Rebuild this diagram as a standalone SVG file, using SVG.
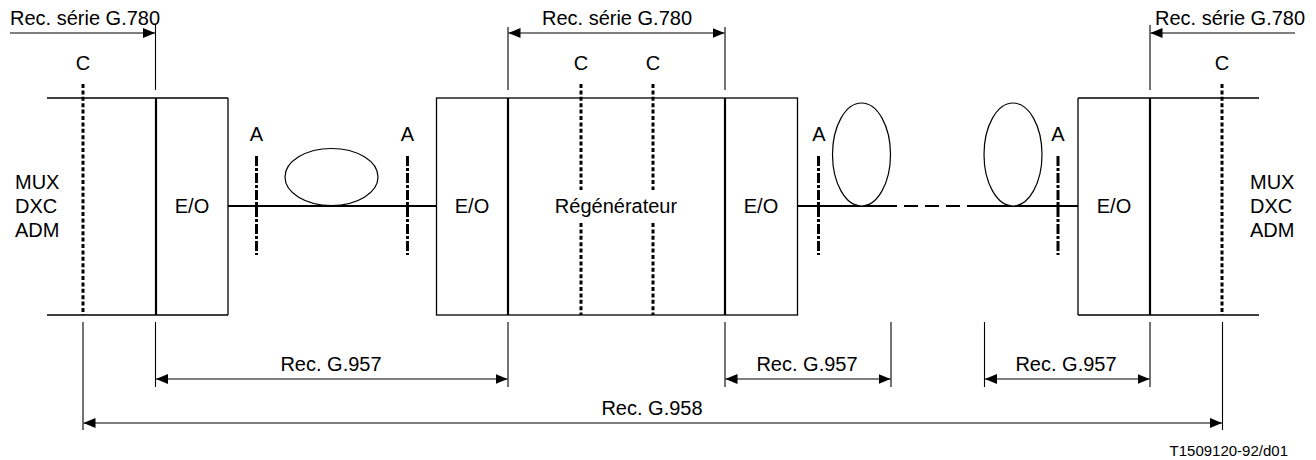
<svg xmlns="http://www.w3.org/2000/svg" width="1316" height="460" viewBox="0 0 1316 460">
<style>
text{font-family:"Liberation Sans",Arial,sans-serif;font-size:20px;fill:#000}
.small{font-size:15px}
.thin{stroke:#000;stroke-width:1.3;fill:none}
.thick{stroke:#000;stroke-width:2.2;fill:none}
.ext{stroke:#000;stroke-width:1.1;fill:none}
.dim{stroke:#000;stroke-width:1.2;fill:none}
.dotC{stroke:#000;stroke-width:3;stroke-dasharray:4 2.4;fill:none}
.dashA{stroke:#000;stroke-width:3;stroke-dasharray:10 2 3 2;fill:none}
.fiber{stroke:#000;stroke-width:2;fill:none}
.fibdash{stroke:#000;stroke-width:2;stroke-dasharray:14 7;fill:none}
.loop{stroke:#000;stroke-width:1.2;fill:#fff}
.mid{text-anchor:middle}
</style>
<defs>
<marker id="ah" markerWidth="12" markerHeight="10" refX="12" refY="5" orient="auto-start-reverse" markerUnits="userSpaceOnUse">
<path d="M0,0 L12,5 L0,10 Z" fill="#000"/>
</marker>
</defs>

<g id="left-terminal">
<line class="thin" x1="47" y1="98" x2="228" y2="98"/>
<line class="thin" x1="47" y1="315" x2="228" y2="315"/>
<line class="thin" x1="228" y1="98" x2="228" y2="315"/>
<line class="thick" x1="156" y1="98" x2="156" y2="315"/>
<line class="dotC" x1="83" y1="84" x2="83" y2="315"/>
<text x="83" y="70" class="mid">C</text>
<text x="15" y="189">MUX</text>
<text x="15" y="213">DXC</text>
<text x="15" y="237">ADM</text>
<text x="192" y="213" class="mid">E/O</text>
</g>

<g id="regenerator">
<rect class="thin" x="436.5" y="98" width="361" height="217"/>
<line class="thick" x1="508" y1="98" x2="508" y2="315"/>
<line class="thick" x1="725" y1="98" x2="725" y2="315"/>
<line class="dotC" x1="581" y1="84" x2="581" y2="190"/>
<line class="dotC" x1="581" y1="223" x2="581" y2="315"/>
<line class="dotC" x1="653" y1="84" x2="653" y2="190"/>
<line class="dotC" x1="653" y1="223" x2="653" y2="315"/>
<text x="581" y="70" class="mid">C</text>
<text x="653" y="70" class="mid">C</text>
<text x="472" y="213" class="mid">E/O</text>
<text x="616" y="213" class="mid">Régénérateur</text>
<text x="761" y="213" class="mid">E/O</text>
</g>

<g id="right-terminal">
<line class="thin" x1="1078" y1="98" x2="1259" y2="98"/>
<line class="thin" x1="1078" y1="315" x2="1259" y2="315"/>
<line class="thin" x1="1078" y1="98" x2="1078" y2="315"/>
<line class="thick" x1="1150" y1="98" x2="1150" y2="315"/>
<line class="dotC" x1="1222" y1="84" x2="1222" y2="315"/>
<text x="1222" y="70" class="mid">C</text>
<text x="1114" y="213" class="mid">E/O</text>
<text x="1250" y="189">MUX</text>
<text x="1250" y="213">DXC</text>
<text x="1250" y="237">ADM</text>
</g>

<g id="fiber-left">
<line class="fiber" x1="228" y1="206" x2="436" y2="206"/>
<ellipse class="loop" cx="331.5" cy="177" rx="46.5" ry="28.5"/>
<line class="dashA" x1="256.5" y1="156" x2="256.5" y2="255"/>
<line class="dashA" x1="407.5" y1="156" x2="407.5" y2="255"/>
<text x="256.5" y="141" class="mid">A</text>
<text x="407.5" y="141" class="mid">A</text>
</g>

<g id="fiber-right">
<line class="fiber" x1="797" y1="206" x2="897" y2="206"/>
<line class="fibdash" x1="904" y1="206" x2="977" y2="206"/>
<line class="fiber" x1="977" y1="206" x2="1078" y2="206"/>
<ellipse class="loop" cx="861.5" cy="154.5" rx="29" ry="51.5"/>
<ellipse class="loop" cx="1013" cy="154.5" rx="29" ry="51.5"/>
<line class="dashA" x1="818.5" y1="156" x2="818.5" y2="255"/>
<line class="dashA" x1="1058" y1="156" x2="1058" y2="255"/>
<text x="819" y="141" class="mid">A</text>
<text x="1058" y="141" class="mid">A</text>
</g>

<g id="connectors">
<line class="ext" x1="155.5" y1="25" x2="155.5" y2="90"/>
<line class="ext" x1="508" y1="27" x2="508" y2="90"/>
<line class="ext" x1="725" y1="27" x2="725" y2="90"/>
<line class="ext" x1="1150" y1="25" x2="1150" y2="90"/>
<line class="dim" x1="10" y1="33" x2="155" y2="33" marker-end="url(#ah)"/>
<line class="dim" x1="508.5" y1="33" x2="724.5" y2="33" marker-start="url(#ah)" marker-end="url(#ah)"/>
<line class="dim" x1="1295" y1="33" x2="1150.5" y2="33" marker-end="url(#ah)"/>

<line class="ext" x1="83" y1="322" x2="83" y2="430"/>
<line class="ext" x1="155.5" y1="322" x2="155.5" y2="387"/>
<line class="ext" x1="508" y1="322" x2="508" y2="387"/>
<line class="ext" x1="725" y1="322" x2="725" y2="387"/>
<line class="ext" x1="891" y1="322" x2="891" y2="387"/>
<line class="ext" x1="984.5" y1="322" x2="984.5" y2="387"/>
<line class="ext" x1="1150" y1="322" x2="1150" y2="387"/>
<line class="ext" x1="1222.5" y1="322" x2="1222.5" y2="430"/>
<line class="dim" x1="156" y1="379" x2="507.5" y2="379" marker-start="url(#ah)" marker-end="url(#ah)"/>
<line class="dim" x1="725.5" y1="379" x2="890.5" y2="379" marker-start="url(#ah)" marker-end="url(#ah)"/>
<line class="dim" x1="985" y1="379" x2="1149.5" y2="379" marker-start="url(#ah)" marker-end="url(#ah)"/>
<line class="dim" x1="83.5" y1="423" x2="1222" y2="423" marker-start="url(#ah)" marker-end="url(#ah)"/>
</g>

<g id="labels">
<text x="10" y="25">Rec. série G.780</text>
<text x="617" y="25" class="mid">Rec. série G.780</text>
<text x="1155" y="25">Rec. série G.780</text>
<text x="331" y="371" class="mid">Rec. G.957</text>
<text x="807" y="371" class="mid">Rec. G.957</text>
<text x="1066" y="371" class="mid">Rec. G.957</text>
<text x="652" y="415" class="mid">Rec. G.958</text>
<text x="1288" y="456" class="small" style="text-anchor:end">T1509120-92/d01</text>
</g>
</svg>
